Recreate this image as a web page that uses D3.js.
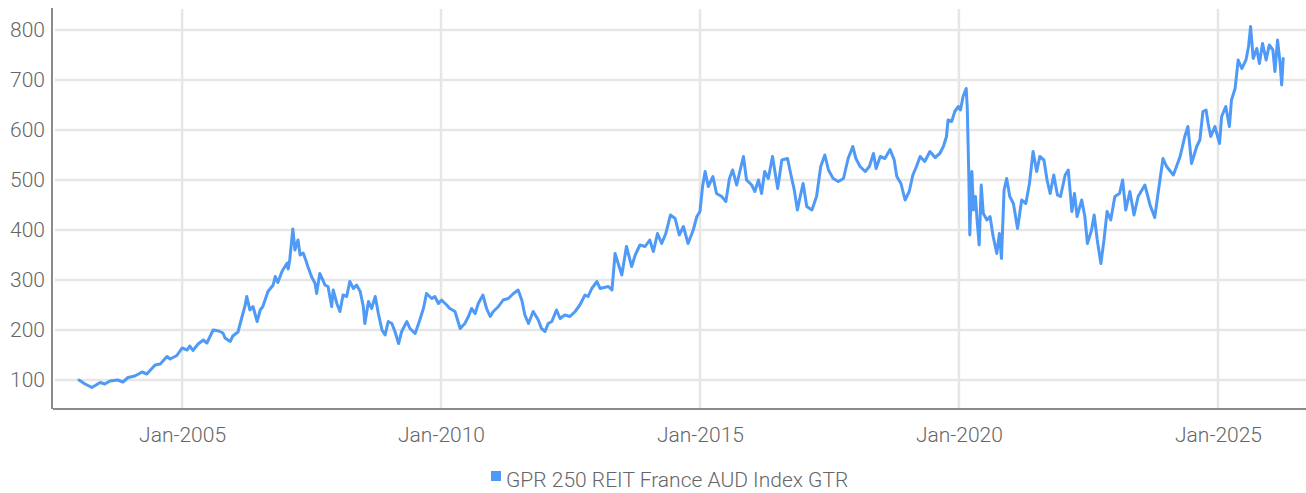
<!DOCTYPE html>
<html>
<head>
<meta charset="utf-8">
<script src="https://cdn.jsdelivr.net/npm/d3@7"></script>
<style>
  html, body { margin: 0; padding: 0; background: #fff; }
  svg { display: block; font-family: Roboto, "Open Sans", sans-serif; }
</style>
</head>
<body>
<svg id="chart" width="1306" height="493"></svg>
<script>
// ---- DATA (fractional years, index values) ----
const seriesName = "GPR 250 REIT France AUD Index GTR";
const yTickValues = [100, 200, 300, 400, 500, 600, 700, 800];
const xTickYears = [2005, 2010, 2015, 2020, 2025];

const dates = [
  2003.01, 2003.13, 2003.26, 2003.42, 2003.51, 2003.61, 2003.76, 2003.86, 2003.96, 2004.09,
  2004.23, 2004.32, 2004.48, 2004.58, 2004.71, 2004.77, 2004.90, 2005.00, 2005.10, 2005.15,
  2005.21, 2005.31, 2005.41, 2005.48, 2005.60, 2005.71, 2005.79, 2005.83, 2005.93, 2005.98,
  2006.08, 2006.16, 2006.22, 2006.25, 2006.31, 2006.37, 2006.45, 2006.51, 2006.56, 2006.66,
  2006.76, 2006.80, 2006.85, 2006.93, 2007.03, 2007.05, 2007.08, 2007.14, 2007.18, 2007.24,
  2007.28, 2007.34, 2007.39, 2007.43, 2007.50, 2007.57, 2007.60, 2007.66, 2007.72, 2007.76,
  2007.82, 2007.89, 2007.92, 2007.99, 2008.05, 2008.11, 2008.18, 2008.24, 2008.31, 2008.37,
  2008.44, 2008.50, 2008.53, 2008.60, 2008.66, 2008.73, 2008.79, 2008.86, 2008.92, 2008.98,
  2009.05, 2009.11, 2009.18, 2009.24, 2009.34, 2009.40, 2009.50, 2009.59, 2009.66, 2009.72,
  2009.82, 2009.88, 2009.95, 2010.01, 2010.11, 2010.17, 2010.27, 2010.37, 2010.46, 2010.53,
  2010.59, 2010.66, 2010.72, 2010.81, 2010.88, 2010.95, 2011.01, 2011.11, 2011.20, 2011.30,
  2011.40, 2011.49, 2011.56, 2011.62, 2011.69, 2011.78, 2011.88, 2011.94, 2012.01, 2012.07,
  2012.14, 2012.23, 2012.30, 2012.39, 2012.49, 2012.59, 2012.68, 2012.78, 2012.84, 2012.91,
  2013.01, 2013.07, 2013.23, 2013.30, 2013.36, 2013.42, 2013.49, 2013.58, 2013.68, 2013.75,
  2013.84, 2013.94, 2014.03, 2014.10, 2014.18, 2014.26, 2014.34, 2014.43, 2014.52, 2014.60,
  2014.68, 2014.77, 2014.87, 2014.94, 2015.00, 2015.05, 2015.10, 2015.16, 2015.25, 2015.32,
  2015.42, 2015.50, 2015.57, 2015.63, 2015.71, 2015.77, 2015.84, 2015.90, 2016.00, 2016.06,
  2016.13, 2016.19, 2016.25, 2016.32, 2016.40, 2016.50, 2016.58, 2016.69, 2016.75, 2016.82,
  2016.88, 2016.94, 2016.99, 2017.06, 2017.16, 2017.25, 2017.33, 2017.41, 2017.48, 2017.57,
  2017.67, 2017.77, 2017.86, 2017.95, 2018.01, 2018.09, 2018.19, 2018.27, 2018.35, 2018.40,
  2018.48, 2018.57, 2018.67, 2018.75, 2018.80, 2018.88, 2018.96, 2019.04, 2019.11, 2019.18,
  2019.25, 2019.34, 2019.44, 2019.54, 2019.63, 2019.70, 2019.76, 2019.79, 2019.86, 2019.92,
  2019.99, 2020.03, 2020.08, 2020.14, 2020.16, 2020.19, 2020.21, 2020.25, 2020.28, 2020.32,
  2020.35, 2020.39, 2020.43, 2020.47, 2020.54, 2020.60, 2020.66, 2020.73, 2020.78, 2020.82,
  2020.87, 2020.92, 2020.98, 2021.05, 2021.13, 2021.21, 2021.29, 2021.36, 2021.43, 2021.50,
  2021.56, 2021.64, 2021.70, 2021.76, 2021.83, 2021.90, 2021.96, 2022.05, 2022.11, 2022.18,
  2022.23, 2022.28, 2022.37, 2022.43, 2022.48, 2022.56, 2022.61, 2022.67, 2022.74, 2022.80,
  2022.86, 2022.93, 2023.01, 2023.10, 2023.16, 2023.22, 2023.30, 2023.38, 2023.46, 2023.59,
  2023.69, 2023.78, 2023.84, 2023.94, 2024.01, 2024.14, 2024.27, 2024.36, 2024.42, 2024.49,
  2024.59, 2024.65, 2024.71, 2024.77, 2024.81, 2024.86, 2024.94, 2025.03, 2025.07, 2025.15,
  2025.22, 2025.26, 2025.33, 2025.39, 2025.46, 2025.54, 2025.59, 2025.63, 2025.68, 2025.75,
  2025.80, 2025.86, 2025.93, 2025.99, 2026.06, 2026.10, 2026.15, 2026.20, 2026.23, 2026.26
];

const values = [
  100, 92, 85, 95, 92, 98, 100, 96, 105, 108,
  116, 112, 130, 132, 147, 142, 149, 164, 160, 168,
  159, 172, 180, 174, 200, 198, 194, 184, 177, 188,
  196, 227, 250, 267, 240, 247, 217, 240, 247, 277,
  290, 307, 295, 317, 334, 322, 340, 402, 360, 380,
  350, 354, 340, 327, 307, 293, 273, 313, 300, 290,
  287, 247, 280, 253, 237, 270, 267, 297, 283, 290,
  277, 247, 213, 257, 243, 267, 233, 200, 190, 217,
  213, 197, 173, 197, 217, 203, 193, 220, 243, 273,
  263, 267, 253, 260, 250, 243, 237, 203, 213, 227,
  243, 233, 253, 270, 243, 227, 237, 247, 260, 263,
  273, 280, 260, 230, 213, 237, 220, 203, 197, 213,
  217, 240, 223, 230, 227, 237, 250, 270, 267, 283,
  297, 283, 287, 280, 353, 333, 310, 367, 327, 350,
  370, 367, 380, 357, 393, 373, 393, 430, 423, 390,
  407, 373, 400, 427, 437, 487, 517, 487, 507, 473,
  467, 457, 503, 520, 490, 517, 547, 500, 490, 477,
  500, 473, 517, 503, 547, 483, 540, 543, 513, 480,
  440, 470, 493, 447, 440, 467, 527, 550, 520, 503,
  497, 503, 543, 567, 543, 527, 517, 527, 553, 523,
  547, 543, 561, 540, 507, 493, 460, 477, 510, 527,
  547, 537, 557, 545, 553, 567, 587, 620, 617, 637,
  647, 640, 667, 683, 647, 513, 390, 517, 440, 467,
  420, 370, 490, 433, 420, 427, 387, 353, 393, 343,
  480, 503, 467, 453, 403, 460, 453, 493, 557, 517,
  547, 540, 500, 473, 510, 470, 467, 510, 520, 437,
  473, 427, 460, 427, 373, 400, 430, 380, 333, 380,
  437, 420, 467, 473, 500, 440, 477, 430, 467, 490,
  450, 425, 470, 543, 527, 510, 547, 587, 607, 533,
  567, 580, 637, 640, 613, 587, 607, 573, 627, 647,
  607, 660, 683, 740, 723, 740, 767, 807, 743, 763,
  733, 773, 740, 770, 760, 717, 780, 733, 690, 743
];

(function () {
  function fracYearToDate(fy) {
    const yr = Math.floor(fy);
    const start = new Date(yr, 0, 1).getTime();
    const end = new Date(yr + 1, 0, 1).getTime();
    return new Date(start + (fy - yr) * (end - start));
  }
  const data = dates.map((d, i) => ({ date: fracYearToDate(d), value: values[i] }));

  const svg = d3.select("#chart");
  const mLeft = 52, mRight = 1306, mTop = 8, mBottom = 409;

  const x = d3.scaleTime()
    .domain([fracYearToDate(2002.49), fracYearToDate(2026.70)])
    .range([mLeft, mRight]);
  const y = d3.scaleLinear()
    .domain([42, 844])
    .range([mBottom, mTop]);

  const gridColor = "#e6e6e6";
  const axisColor = "#8a8a8a";
  const textColor = "#666666";
  const lineColor = "#4f9af6";
  const fontCss = "Roboto, sans-serif";

  // horizontal gridlines
  svg.append("g")
    .selectAll("line")
    .data(yTickValues)
    .join("line")
    .attr("x1", mLeft + 3).attr("x2", mRight)
    .attr("y1", d => y(d)).attr("y2", d => y(d))
    .attr("stroke", gridColor).attr("stroke-width", 2.5);

  // vertical gridlines
  const xTickDates = xTickYears.map(yr => new Date(yr, 0, 1));
  svg.append("g")
    .selectAll("line")
    .data(xTickDates)
    .join("line")
    .attr("x1", d => x(d)).attr("x2", d => x(d))
    .attr("y1", mTop + 1).attr("y2", mBottom - 1)
    .attr("stroke", gridColor).attr("stroke-width", 2.5);

  // series line
  const line = d3.line()
    .x(d => x(d.date))
    .y(d => y(d.value));
  svg.append("path")
    .datum(data)
    .attr("fill", "none")
    .attr("stroke", lineColor)
    .attr("stroke-width", 3)
    .attr("stroke-linejoin", "round")
    .attr("stroke-linecap", "round")
    .attr("d", line);

  // y axis labels
  const yAxis = svg.append("g")
    .attr("transform", `translate(${mLeft},0)`)
    .call(d3.axisLeft(y).tickValues(yTickValues).tickSize(0).tickPadding(7));
  yAxis.select(".domain").remove();
  yAxis.selectAll("text")
    .attr("fill", textColor)
    .style("font-size", "21px")
    .style("font-weight", 300)
    .style("font-family", fontCss);

  // x axis labels
  const xAxis = svg.append("g")
    .attr("transform", `translate(0,${mBottom})`)
    .call(d3.axisBottom(x).tickValues(xTickDates).tickSize(0).tickPadding(18)
      .tickFormat(d3.timeFormat("%b-%Y")));
  xAxis.select(".domain").remove();
  xAxis.selectAll("text")
    .attr("fill", textColor)
    .style("font-size", "21px")
    .style("font-weight", 300)
    .style("font-family", fontCss);

  // axis lines
  svg.append("line")
    .attr("x1", mLeft).attr("x2", mLeft)
    .attr("y1", mTop).attr("y2", mBottom)
    .attr("stroke", axisColor).attr("stroke-width", 2);
  svg.append("line")
    .attr("x1", mLeft + 1).attr("x2", mRight)
    .attr("y1", mBottom).attr("y2", mBottom)
    .attr("stroke", axisColor).attr("stroke-width", 2);

  // legend
  const legend = svg.append("g").attr("transform", "translate(491,471)");
  legend.append("rect")
    .attr("x", 0).attr("y", 0).attr("width", 10).attr("height", 10)
    .attr("fill", lineColor);
  legend.append("text")
    .attr("x", 15).attr("y", 16)
    .attr("fill", textColor)
    .style("font-size", "21px")
    .style("font-weight", 300)
    .style("font-family", fontCss)
    .text(seriesName);
})();
</script>
</body>
</html>
